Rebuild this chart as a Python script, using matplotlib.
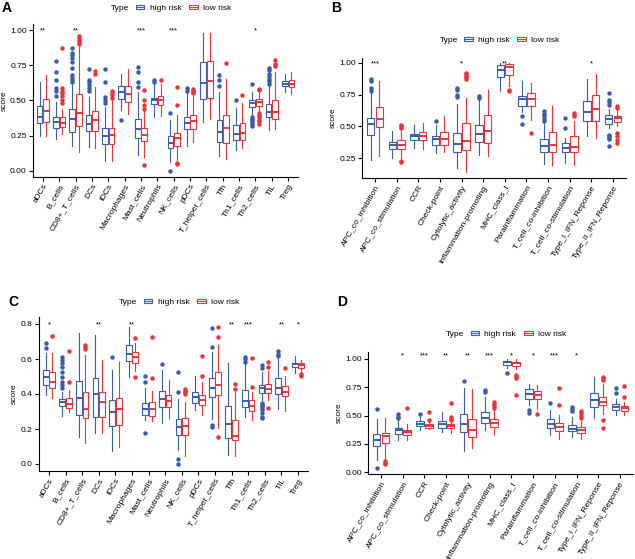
import numpy as np
import matplotlib.pyplot as plt
from matplotlib.patches import Rectangle, Patch
from matplotlib.lines import Line2D
from matplotlib.legend_handler import HandlerBase

plt.rcParams['font.family'] = ['Liberation Sans', 'DejaVu Sans']

BLUE = '#3a5ca9'
RED = '#e8353b'
W, H = 635, 559

# ---- data: (whisker low, q1, median, q3, whisker high) + outliers ----
cells = ['aDCs', 'B_cells', 'CD8+_T_cells', 'DCs', 'iDCs', 'Macrophages', 'Mast_cells',
         'Neutrophils', 'NK_cells', 'pDCs', 'T_helper_cells', 'Tfh', 'Th1_cells',
         'Th2_cells', 'TIL', 'Treg']
funcs = ['APC_co_inhibition', 'APC_co_stimulation', 'CCR', 'Check-point',
         'Cytolytic_activity', 'Inflammation-promoting', 'MHC_class_I', 'Parainflammation',
         'T_cell_co-inhibition', 'T_cell_co-stimulation', 'Type_I_IFN_Reponse',
         'Type_II_IFN_Reponse']

A_high = [(0.25, 0.34, 0.384, 0.46, 0.633), (0.23, 0.306, 0.344, 0.384, 0.49),
          (0.18, 0.277, 0.372, 0.443, 0.61), (0.17, 0.282, 0.332, 0.396, 0.526),
          (0.07, 0.194, 0.246, 0.306, 0.455), (0.43, 0.514, 0.562, 0.60, 0.69),
          (0.11, 0.235, 0.30, 0.367, 0.56), (0.38, 0.474, 0.505, 0.52, 0.62),
          (0.064, 0.166, 0.20, 0.246, 0.36), (0.18, 0.30, 0.341, 0.384, 0.55),
          (0.348, 0.514, 0.626, 0.77, 0.976), (0.107, 0.206, 0.277, 0.365, 0.56),
          (0.147, 0.218, 0.26, 0.325, 0.45), (0.396, 0.455, 0.483, 0.502, 0.56),
          (0.294, 0.38, 0.42, 0.474, 0.60), (0.56, 0.60, 0.62, 0.64, 0.69)]
A_high_out = [[], [0.78, 0.70, 0.645, 0.59, 0.565, 0.53],
              [0.875, 0.84, 0.82, 0.80, 0.775, 0.73, 0.68, 0.66, 0.645, 0.63],
              [0.72, 0.645, 0.63, 0.61, 0.59, 0.57], [0.727, 0.633, 0.526, 0.50, 0.48],
              [0.365], [0.735, 0.70, 0.633, 0.597], [0.645, 0.63], [0.41, 0.0],
              [0.59, 0.57], [], [0.68, 0.645, 0.60], [0.507],
              [0.62, 0.384, 0.372, 0.36, 0.345, 0.335, 0.318],
              [0.73, 0.715, 0.69, 0.675, 0.655, 0.635, 0.615], []]
A_low = [(0.25, 0.348, 0.424, 0.514, 0.68), (0.265, 0.313, 0.341, 0.38, 0.443),
         (0.135, 0.318, 0.408, 0.543, 0.88), (0.16, 0.284, 0.36, 0.424, 0.597),
         (0.07, 0.194, 0.254, 0.306, 0.50), (0.407, 0.49, 0.545, 0.60, 0.72),
         (0.10, 0.213, 0.254, 0.308, 0.43), (0.39, 0.47, 0.505, 0.53, 0.62),
         (0.076, 0.18, 0.235, 0.27, 0.40), (0.206, 0.296, 0.353, 0.40, 0.53),
         (0.372, 0.52, 0.637, 0.78, 0.976), (0.088, 0.20, 0.306, 0.40, 0.65),
         (0.16, 0.218, 0.27, 0.34, 0.48), (0.42, 0.46, 0.49, 0.51, 0.55),
         (0.30, 0.372, 0.42, 0.502, 0.70), (0.545, 0.597, 0.62, 0.645, 0.70)]
A_low_out = [[], [0.87, 0.59, 0.57, 0.55, 0.53, 0.50, 0.48],
             [0.96, 0.945, 0.93, 0.915, 0.90], [0.71, 0.69], [0.57, 0.555, 0.54, 0.52],
             [], [0.573, 0.50, 0.467, 0.443, 0.04], [0.645], [0.597, 0.467, 0.057, 0.047],
             [0.585, 0.57, 0.56, 0.55], [], [0.763], [0.54],
             [0.585, 0.575, 0.41, 0.395, 0.38, 0.365, 0.355, 0.336],
             [0.79, 0.76, 0.745], []]
A_stars = ['**', '', '**', '', '', '', '***', '', '***', '', '', '', '', '*', '', '']

B_high = [(0.237, 0.434, 0.518, 0.566, 0.76), (0.25, 0.321, 0.35, 0.374, 0.466),
          (0.33, 0.395, 0.42, 0.44, 0.513), (0.29, 0.355, 0.40, 0.426, 0.51),
          (0.17, 0.295, 0.363, 0.447, 0.68), (0.276, 0.376, 0.44, 0.508, 0.71),
          (0.776, 0.89, 0.947, 0.98, 1.0), (0.61, 0.663, 0.712, 0.736, 0.855),
          (0.205, 0.30, 0.342, 0.40, 0.52), (0.21, 0.295, 0.326, 0.368, 0.41),
          (0.42, 0.54, 0.61, 0.697, 0.874), (0.487, 0.518, 0.56, 0.592, 0.64)]
B_high_out = [[0.87, 0.86, 0.80, 0.78], [], [], [0.54], [0.80, 0.79, 0.75, 0.73],
              [0.74, 0.725], [], [0.58, 0.52], [0.62, 0.60, 0.58, 0.56, 0.54],
              [0.487, 0.566], [], [0.76, 0.71, 0.69, 0.67, 0.43, 0.42, 0.41, 0.40, 0.342]]
B_low = [(0.263, 0.492, 0.558, 0.653, 0.855), (0.25, 0.324, 0.355, 0.39, 0.48),
         (0.32, 0.39, 0.42, 0.455, 0.53), (0.30, 0.355, 0.40, 0.455, 0.584),
         (0.137, 0.31, 0.382, 0.53, 0.72), (0.263, 0.368, 0.466, 0.587, 0.79),
         (0.82, 0.908, 0.966, 0.99, 1.0), (0.553, 0.658, 0.712, 0.76, 0.845),
         (0.197, 0.297, 0.353, 0.455, 0.663), (0.197, 0.295, 0.34, 0.426, 0.54),
         (0.408, 0.54, 0.637, 0.75, 0.916), (0.50, 0.532, 0.566, 0.584, 0.64)]
B_low_out = [[], [0.51, 0.50, 0.49, 0.225, 0.215], [], [], [0.92, 0.91, 0.90, 0.89, 0.875],
             [], [0.79, 0.776], [0.447], [], [0.605, 0.59, 0.58], [],
             [0.663, 0.645, 0.45, 0.42, 0.39, 0.37]]
B_stars = ['***', '', '', '', '*', '', '**', '', '', '', '*', '']

C_high = [(0.395, 0.452, 0.496, 0.538, 0.633), (0.272, 0.329, 0.354, 0.371, 0.414),
          (0.154, 0.281, 0.376, 0.475, 0.747), (0.177, 0.266, 0.40, 0.49, 0.738),
          (0.072, 0.215, 0.295, 0.367, 0.54), (0.50, 0.591, 0.627, 0.68, 0.785),
          (0.253, 0.281, 0.314, 0.348, 0.433), (0.234, 0.325, 0.371, 0.418, 0.538),
          (0.082, 0.167, 0.209, 0.257, 0.37), (0.31, 0.348, 0.382, 0.409, 0.504),
          (0.257, 0.382, 0.433, 0.494, 0.64), (0.053, 0.148, 0.228, 0.333, 0.58),
          (0.268, 0.323, 0.361, 0.424, 0.576), (0.367, 0.405, 0.433, 0.452, 0.528),
          (0.316, 0.401, 0.433, 0.49, 0.60), (0.519, 0.553, 0.572, 0.58, 0.618)]
C_high_out = [[0.694, 0.665], [0.614, 0.595, 0.575, 0.553, 0.523, 0.50, 0.47, 0.45, 0.433],
              [], [], [0.614], [], [0.504, 0.466, 0.18], [0.572], [0.523, 0.414, 0.029, 0.0],
              [], [0.776, 0.671, 0.224, 0.209], [], [0.614, 0.60, 0.585],
              [0.567, 0.548, 0.348, 0.34, 0.33, 0.32, 0.31, 0.29, 0.27, 0.262],
              [0.643, 0.63, 0.62], []]
C_low = [(0.376, 0.437, 0.471, 0.523, 0.637), (0.30, 0.319, 0.344, 0.376, 0.424),
         (0.12, 0.262, 0.314, 0.414, 0.624), (0.177, 0.268, 0.354, 0.414, 0.595),
         (0.097, 0.224, 0.314, 0.376, 0.585), (0.529, 0.58, 0.61, 0.638, 0.694),
         (0.243, 0.276, 0.316, 0.357, 0.42), (0.262, 0.325, 0.361, 0.395, 0.48),
         (0.048, 0.167, 0.215, 0.262, 0.357), (0.281, 0.338, 0.367, 0.395, 0.471),
         (0.205, 0.395, 0.452, 0.523, 0.68), (0.044, 0.135, 0.162, 0.253, 0.409),
         (0.253, 0.304, 0.329, 0.363, 0.414), (0.367, 0.405, 0.43, 0.458, 0.53),
         (0.304, 0.386, 0.414, 0.443, 0.504), (0.525, 0.548, 0.563, 0.576, 0.595)]
C_low_out = [[0.734], [0.643, 0.471], [0.68, 0.67, 0.66], [], [], [0.719, 0.50],
             [0.728, 0.49], [], [0.43, 0.42, 0.41, 0.40], [0.618, 0.504],
             [0.785, 0.728, 0.152], [0.458, 0.428], [0.605, 0.439], [0.585, 0.553, 0.319],
             [0.551], [0.515, 0.504]]
C_stars = ['*', '', '', '**', '', '**', '', '', '', '', '', '**', '***', '', '**', '*']

D_high = [(0.109, 0.228, 0.281, 0.34, 0.473), (0.287, 0.34, 0.37, 0.39, 0.459),
          (0.37, 0.405, 0.429, 0.45, 0.488), (0.355, 0.393, 0.423, 0.453, 0.533),
          (0.192, 0.355, 0.429, 0.518, 0.74), (0.376, 0.435, 0.479, 0.533, 0.66),
          (0.92, 0.947, 0.97, 0.985, 1.0), (0.59, 0.65, 0.686, 0.73, 0.775),
          (0.325, 0.393, 0.423, 0.473, 0.547), (0.31, 0.364, 0.385, 0.42, 0.49),
          (0.482, 0.571, 0.636, 0.695, 0.843), (0.503, 0.547, 0.577, 0.60, 0.65)]
D_high_out = [[0.562, 0.036], [0.51, 0.49, 0.48], [0.518], [], [0.808], [0.725, 0.71],
              [0.879], [0.547, 0.524], [0.612], [0.577, 0.56, 0.54], [], [0.74, 0.695]]
D_low = [(0.118, 0.257, 0.317, 0.346, 0.482), (0.287, 0.331, 0.355, 0.376, 0.429),
         (0.379, 0.393, 0.408, 0.423, 0.45), (0.346, 0.388, 0.408, 0.423, 0.44),
         (0.216, 0.31, 0.376, 0.467, 0.73), (0.34, 0.40, 0.435, 0.473, 0.55),
         (0.908, 0.938, 0.962, 0.976, 0.997), (0.562, 0.645, 0.68, 0.719, 0.769),
         (0.296, 0.364, 0.40, 0.435, 0.503), (0.296, 0.346, 0.37, 0.40, 0.45),
         (0.512, 0.592, 0.621, 0.666, 0.78), (0.503, 0.541, 0.568, 0.586, 0.62)]
D_low_out = [[0.098, 0.085, 0.07], [0.568], [0.533, 0.465], [0.607, 0.488, 0.47, 0.46], [],
             [0.62, 0.60, 0.58, 0.565], [0.858, 0.843, 0.828, 0.68], [0.518], [0.746, 0.59],
             [0.54, 0.52, 0.50, 0.48], [0.843, 0.83, 0.81, 0.464, 0.393], [0.76, 0.666]]
D_stars = ['', '*', '***', '**', '**', '***', '*', '*', '***', '*', '', '']


class BoxKey(HandlerBase):
    # ggplot-like boxplot legend key
    def create_artists(self, legend, orig, xd, yd, w, h, fs, trans):
        c = orig.get_edgecolor()
        x0, y0 = -xd, -yd
        box = Rectangle((x0 + 0.1 * w, y0 + 0.1 * h), 0.8 * w, 0.8 * h, fc='white',
                        ec=c, lw=0.8, transform=trans)
        med = Line2D([x0 + 0.1 * w, x0 + 0.9 * w], [y0 + 0.5 * h] * 2, color=c, lw=0.8,
                     transform=trans)
        return [box, med]


fig = plt.figure(figsize=(W / 100, H / 100), dpi=100)
FS = 6


def panel(l, t, r, b, cats, high, high_out, low, low_out, stars, star_y, ylim, yticks,
          fmt, letter, letter_y, leg_y):
    ax = fig.add_axes([l / W, 1 - b / H, (r - l) / W, (b - t) / H])
    pos = np.arange(1, len(cats) + 1)
    for grp, outs, off, col in ((high, high_out, -0.2, BLUE), (low, low_out, 0.2, RED)):
        stats = [dict(whislo=s[0], q1=s[1], med=s[2], q3=s[3], whishi=s[4], fliers=f)
                 for s, f in zip(grp, outs)]
        ax.bxp(stats, positions=pos + off, widths=0.35, showcaps=False, patch_artist=True,
               manage_ticks=False,
               boxprops=dict(facecolor='white', edgecolor=col, lw=0.8),
               whiskerprops=dict(color=col, lw=0.8),
               medianprops=dict(color=col, lw=1.4),
               flierprops=dict(marker='o', markersize=2.2, markerfacecolor=col,
                               markeredgecolor=col, ls='none'))
    for p, s in zip(pos, stars):
        if s:
            ax.text(p, star_y, s, ha='center', va='center', fontsize=5.5)
    ax.set_xlim(0.4, len(cats) + 0.6)
    ax.set_ylim(*ylim)
    ax.set_yticks(yticks, [fmt.format(v) for v in yticks], fontsize=FS)
    ax.set_xticks(pos, cats, rotation=60, ha='right', va='top', rotation_mode='anchor',
                  fontsize=FS)
    ax.set_ylabel('score', fontsize=FS, labelpad=2)
    for sp in ('top', 'right'):
        ax.spines[sp].set_visible(False)
    for sp in ('left', 'bottom'):
        ax.spines[sp].set_linewidth(0.8)
    ax.tick_params(length=3, width=0.8, pad=1.5, colors='black')

    fig.text((l - 31) / W, 1 - letter_y / H, letter, fontsize=10, fontweight='bold',
             va='center')
    cx = (l + r) / 2
    fig.text((cx - 36) / W, 1 - leg_y / H, 'Type', ha='right', va='center', fontsize=FS)
    fig.legend(handles=[Patch(ec=BLUE, fc='white'), Patch(ec=RED, fc='white')],
               labels=['high risk', 'low risk'], handler_map={Patch: BoxKey()},
               ncol=2, frameon=False, loc='center left', fontsize=FS,
               bbox_to_anchor=((cx - 31) / W, 1 - leg_y / H),
               handlelength=1.3, handleheight=0.7, handletextpad=0.5,
               columnspacing=0.8, borderpad=0, borderaxespad=0)
    return ax


ticks4 = [0.0, 0.25, 0.5, 0.75, 1.0]
panel(33, 24.4, 298, 176.6, cells, A_high, A_high_out, A_low, A_low_out, A_stars, 0.995,
      (-0.04, 1.04), ticks4, '{:.2f}', 'A', 8, 8)
panel(362, 57.5, 626, 177.8, funcs, B_high, B_high_out, B_low, B_low_out, B_stars, 0.995,
      (0.094, 1.043), [0.25, 0.5, 0.75, 1.0], '{:.2f}', 'B', 8, 40)
panel(39, 317, 308, 471, cells, C_high, C_high_out, C_low, C_low_out, C_stars, 0.797,
      (-0.04, 0.84), [0.0, 0.2, 0.4, 0.6, 0.8], '{:.1f}', 'C', 302, 302)
panel(368, 352, 633, 474, funcs, D_high, D_high_out, D_low, D_low_out, D_stars, 1.03,
      (-0.015, 1.06), ticks4, '{:.2f}', 'D', 302, 334)

fig.savefig('out.png', dpi=100)
